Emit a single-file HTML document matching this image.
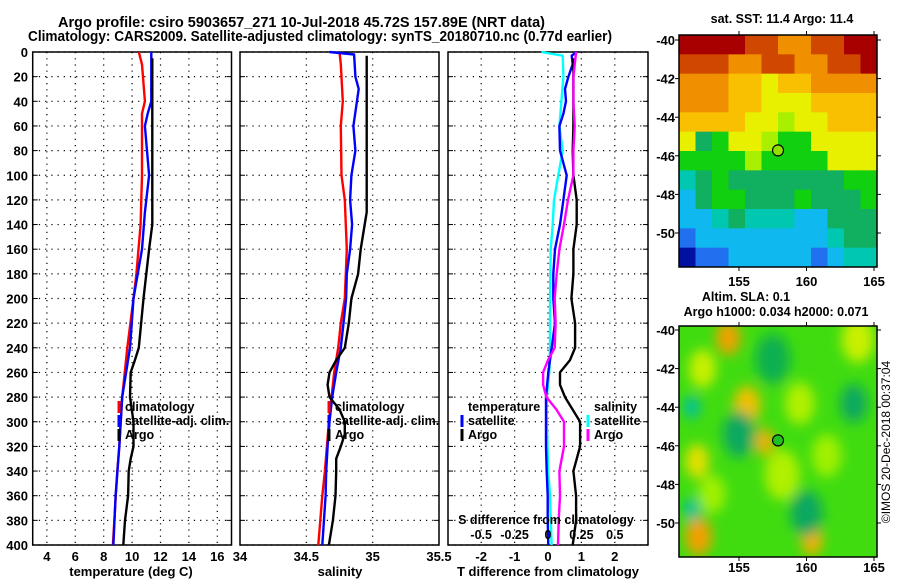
<!DOCTYPE html>
<html><head><meta charset="utf-8"><style>
html,body{margin:0;padding:0;background:#fff}
svg{display:block;font-family:"Liberation Sans",Arial,sans-serif;font-weight:bold}
text{fill:#000}
</style></head><body>
<svg id="fig" width="900" height="580" viewBox="0 0 900 580" xmlns="http://www.w3.org/2000/svg">
<defs>
<filter id="blur" x="-20%" y="-20%" width="140%" height="140%"><feGaussianBlur stdDeviation="6"/></filter>
<clipPath id="clipB"><rect x="679" y="326" width="198" height="231"/></clipPath>
</defs>
<text x="58" y="27" font-size="14.5" textLength="487" lengthAdjust="spacingAndGlyphs">Argo profile: csiro 5903657_271 10-Jul-2018 45.72S 157.89E (NRT data)</text>
<text x="28" y="41" font-size="14.5" textLength="584" lengthAdjust="spacingAndGlyphs">Climatology: CARS2009. Satellite-adjusted climatology: synTS_20180710.nc (0.77d earlier)</text>
<g id="g-temp"></g>
<g id="g-sal"></g>
<g id="g-diff"></g>
<g id="g-map1"></g>
<g id="g-map2"></g>
<text x="782" y="23" font-size="12.5" text-anchor="middle">sat. SST: 11.4 Argo: 11.4</text>
<text x="746" y="301" font-size="12.5" text-anchor="middle">Altim. SLA: 0.1</text>
<text x="776" y="316" font-size="12.5" text-anchor="middle">Argo h1000: 0.034 h2000: 0.071</text>
<text transform="translate(890,442) rotate(-90)" font-size="12" font-weight="normal" text-anchor="middle">©IMOS 20-Dec-2018 00:37:04</text>
</svg>
<script>
// ---------- data ----------
const depthTicks = [0,20,40,60,80,100,120,140,160,180,200,220,240,260,280,300,320,340,360,380,400];
const tempTicks = [4,6,8,10,12,14,16];
const salTicks = [34,34.5,35,35.5];
const tdiffTicks = [-2,-1,0,1,2];
const sdiffTicks = [-0.5,-0.25,0,0.25,0.5];
const sdiffTickLabels = ["-0.5","-0.25","0","0.25","0.5"];

const climTdepth = [0,10,40,50,100,140,180,200,240,280,300,320,340,360,400];
const climT = [10.47,10.7,10.9,10.7,10.7,10.6,10.3,10.1,9.66,9.3,9.2,9.1,8.96,8.85,8.65];
const satTdepth = [0,40,50,60,100,130,160,200,240,280,320,360,400];
const satT = [11.35,11.35,11.1,10.9,11.2,10.9,10.7,10.1,9.85,9.3,9.1,8.84,8.68];
const argoTdepth = [5,40,140,160,200,240,250,260,280,300,320,330,340,360,380,400];
const argoT = [11.42,11.42,11.42,11.2,10.8,10.47,10.2,9.9,9.85,10.1,10.1,9.9,9.76,9.72,9.5,9.38];

const climSdepth = [0,10,40,60,100,120,160,200,220,240,260,300,340,360,400];
const climS = [34.75,34.76,34.775,34.76,34.765,34.79,34.805,34.79,34.76,34.74,34.71,34.67,34.64,34.62,34.59];
const satSdepth = [0,2,20,30,60,80,100,120,140,160,180,200,220,240,260,280,300,320,340,360,400];
const satS = [34.675,34.86,34.87,34.895,34.855,34.87,34.84,34.83,34.845,34.83,34.805,34.8,34.78,34.76,34.725,34.695,34.675,34.66,34.65,34.645,34.62];
const argoSdepth = [3,130,140,160,180,200,220,240,250,260,270,280,290,300,310,320,330,340,360,380,400];
const argoS = [34.955,34.955,34.94,34.91,34.89,34.84,34.82,34.79,34.725,34.675,34.66,34.675,34.75,34.79,34.79,34.76,34.725,34.725,34.72,34.7,34.67];

const dTargoDepth = [5,20,40,60,80,100,120,140,160,180,200,220,240,250,260,270,280,300,320,340,360,380,400];
const dTargo = [0.76,0.76,0.76,0.76,0.74,0.76,0.86,0.86,0.76,0.76,0.70,0.81,0.81,0.66,0.36,0.36,0.51,0.96,0.96,0.76,0.84,0.84,0.74];
const dTsatDepth = [0,3,10,20,30,40,50,60,80,100,120,140,160,180,200,220,240,260,280,300,320,340,360,380,400];
const dTsat = [0.86,0.71,0.74,0.61,0.51,0.54,0.46,0.34,0.36,0.56,0.46,0.36,0.21,0.16,0.16,0.21,0.11,0.01,-0.06,-0.06,-0.06,-0.04,-0.01,-0.01,0.01];
const dSsatDepth = [0,3,20,40,60,80,100,120,140,160,200,240,260,280,300,340,360,400];
const dSsat = [-0.05,0.11,0.115,0.10,0.085,0.11,0.077,0.045,0.035,0.02,0.015,0.015,0.01,-0.01,-0.01,0.002,0.015,0.027];
const dSargoDepth = [0,20,40,60,80,100,120,140,160,180,200,220,240,250,260,270,280,290,300,320,340,360,380,400];
const dSargo = [0.21,0.19,0.19,0.20,0.19,0.19,0.15,0.12,0.085,0.065,0.05,0.057,0.05,0.0,-0.037,-0.037,-0.012,0.062,0.12,0.12,0.085,0.09,0.08,0.075];

// SST map colour-index grid (rows: -40 to -52 by 1 deg, cols: 150.5 to 165 lon)
const sstGrid = [
 [0,0,0,0,1,1,2,2,1,1,0,0],
 [1,1,1,2,2,1,1,2,2,1,1,0],
 [2,2,2,3,3,4,3,3,2,2,2,2],
 [2,2,2,3,3,4,4,4,3,3,3,3],
 [3,3,3,3,4,4,5,4,4,3,3,3],
 [4,7,6,4,4,5,6,6,4,4,4,4],
 [6,6,6,6,5,6,6,6,6,4,4,4],
 [8,7,6,7,7,7,7,7,7,7,6,6],
 [9,7,6,6,7,7,7,6,7,7,7,6],
 [9,9,8,7,8,8,8,9,9,7,7,7],
 [10,9,9,9,9,9,9,9,9,8,7,7],
 [11,10,10,9,9,9,9,9,10,9,8,8]
];
const sstPalette = ["#a80000","#d04800","#f09000","#f8c000","#e8f000","#a8f000","#10d010","#10b060","#00c8b0","#10b8f0","#2070f0","#0010a0"];
// SLA blobs: lon, lat, radius(deg), colour
const slaLon = [154.2,155.6,156.9,152.0,160.4,151.9,152.3,163.8,158.2,159.5,151.5,151.5,155.0,163.5,160.0,157.5,161.5,153.0];
const slaLat = [-40.4,-43.9,-45.8,-50.7,-50.9,-46.8,-42.0,-40.5,-47.5,-43.8,-44.0,-49.3,-45.4,-43.8,-49.5,-41.5,-46.5,-48.5];
const slaR = [0.9,1.0,0.7,1.0,0.8,0.9,1.0,1.2,1.3,1.1,0.6,0.6,1.2,1.0,1.2,1.3,1.1,1.0];
const slaCol = ["#f0a000","#f0c000","#f0b000","#f0a000","#f0b000","#e0e000","#c8f000","#c8f000","#b0f000","#b0f000","#00c0a0","#00c0a0","#10a860","#10a860","#10a860","#10b050","#a0f000","#a0f000"];

// ---------- helpers ----------
const NS="http://www.w3.org/2000/svg";
function mk(parent,tag,attrs){const e=document.createElementNS(NS,tag);for(const k in attrs)e.setAttribute(k,attrs[k]);parent.appendChild(e);return e;}
const Y0=52, Y1=545;
function yD(d){return Y0+(d/400)*(Y1-Y0);}
function xTemp(t){return 32.7+(t-3)*(231.5-32.7)/14;}
function xSal(s){return 240+(s-34)*(439-240)/1.5;}
function xDT(t){return 548+t*33.4;}
function xDS(s){return 548+s*133.6;}

function linePath(xs,ds,xf){return xs.map((v,i)=>(i?"L":"M")+xf(v).toFixed(1)+","+yD(ds[i]).toFixed(1)).join("");}

function panel(g,x0,x1,vgridXs,tickLabels,labelXs,xlabel,xlabelX,ylabels){
  for(const d of depthTicks){
    const y=yD(d);
    const l=mk(g,"line",{x1:x0,x2:x1,y1:y,y2:y,stroke:"#000","stroke-width":1.2,"stroke-dasharray":"1.2,5"});
    
    
    mk(g,"line",{x1:x0,x2:x0+5,y1:y,y2:y,stroke:"#000","stroke-width":1});
    mk(g,"line",{x1:x1-5,x2:x1,y1:y,y2:y,stroke:"#000","stroke-width":1});
    if(ylabels){const t=mk(g,"text",{x:28,y:y+5,"font-size":13,"text-anchor":"end"});t.textContent=d;
      
      }
  }
  for(const vx of vgridXs){
    const l=mk(g,"line",{x1:vx,x2:vx,y1:Y0,y2:Y1,stroke:"#000","stroke-width":1.2,"stroke-dasharray":"1.2,5"});
    
    
  }
  for(let i=0;i<tickLabels.length;i++){
    const t=mk(g,"text",{x:labelXs[i],y:561,"font-size":13,"text-anchor":"middle"});t.textContent=tickLabels[i];
    
    
  }
  const r=mk(g,"rect",{x:x0,y:Y0,width:x1-x0,height:Y1-Y0,fill:"none",stroke:"#000","stroke-width":1.5});
  
  
  const xl=mk(g,"text",{x:xlabelX,y:576,"font-size":13,"text-anchor":"middle"});xl.textContent=xlabel;
  
  
}
function series(g,xs,ds,xf,color,name){
  const p=mk(g,"path",{d:linePath(xs,ds,xf),fill:"none",stroke:color,"stroke-width":2.4,"stroke-linejoin":"round"});
  
  
}
function legend(g,x,y,color,label){
  const m=mk(g,"line",{x1:x-6,x2:x-6,y1:y-10,y2:y+2,stroke:color,"stroke-width":3});
  
  
  const t=mk(g,"text",{x:x,y:y,"font-size":12.5});t.textContent=label;
  
  
}

// ---------- temperature panel ----------
const gT=document.getElementById("g-temp");
panel(gT,32.7,231.5,tempTicks.map(xTemp),tempTicks.map(String),tempTicks.map(xTemp),"temperature (deg C)",131,true);
series(gT,climT,climTdepth,xTemp,"#f00","climatology-temp-line");
series(gT,satT,satTdepth,xTemp,"#00f","satellite-temp-line");
series(gT,argoT,argoTdepth,xTemp,"#000","argo-temp-line");
legend(gT,125,411,"#f00","climatology");
legend(gT,125,425,"#00f","satellite-adj. clim.");
legend(gT,125,439,"#000","Argo");

// ---------- salinity panel ----------
const gS=document.getElementById("g-sal");
panel(gS,240,439,[xSal(34.5),xSal(35)],["34","34.5","35","35.5"],salTicks.map(xSal),"salinity",340,false);
series(gS,climS,climSdepth,xSal,"#f00","climatology-salinity-line");
series(gS,satS,satSdepth,xSal,"#00f","satellite-salinity-line");
series(gS,argoS,argoSdepth,xSal,"#000","argo-salinity-line");
legend(gS,335,411,"#f00","climatology");
legend(gS,335,425,"#00f","satellite-adj. clim.");
legend(gS,335,439,"#000","Argo");

// ---------- difference panel ----------
const gD=document.getElementById("g-diff");
panel(gD,448,648,tdiffTicks.map(xDT),tdiffTicks.map(String),tdiffTicks.map(xDT),"T difference from climatology",548,false);
series(gD,dSsat,dSsatDepth,xDS,"#0ff","satellite-salinity-diff-line");
series(gD,dTsat,dTsatDepth,xDT,"#00f","satellite-temp-diff-line");
series(gD,dTargo,dTargoDepth,xDT,"#000","argo-temp-diff-line");
series(gD,dSargo,dSargoDepth,xDS,"#f0f","argo-salinity-diff-line");
{const t=mk(gD,"text",{x:468,y:411,"font-size":12.5});t.textContent="temperature";
 
 
 const t2=mk(gD,"text",{x:594,y:411,"font-size":12.5});t2.textContent="salinity";
 
 }
legend(gD,468,425,"#00f","satellite");
legend(gD,468,439,"#000","Argo");
legend(gD,594,425,"#0ff","satellite");
legend(gD,594,439,"#f0f","Argo");
{const t=mk(gD,"text",{x:546,y:524,"font-size":12.5,"text-anchor":"middle"});t.textContent="S difference from climatology";
 
 
 for(let i=0;i<sdiffTicks.length;i++){const l=mk(gD,"text",{x:xDS(sdiffTicks[i]),y:539,"font-size":12.5,"text-anchor":"middle"});l.textContent=sdiffTickLabels[i];
  
  }}

// ---------- maps ----------
const MX0=679,MX1=877;
function mLon(lon){return 739+(lon-155)*13.5;}
function latTop(lat){return 40+(-40-lat)*19.3;}
function latBot(lat){return 330+(-40-lat)*19.3;}
function mapAxes(g,yf,ytop,ybot,lonY){
  const lats=[-40,-42,-44,-46,-48,-50];
  for(const la of lats){const y=yf(la);
    mk(g,"line",{x1:MX0-4,x2:MX0,y1:y,y2:y,stroke:"#000"});mk(g,"line",{x1:MX1,x2:MX1+4,y1:y,y2:y,stroke:"#000"});
    const t=mk(g,"text",{x:675,y:y+5,"font-size":13,"text-anchor":"end"});t.textContent=la;
    
    }
  for(const lo of [155,160,165]){const x=mLon(lo);
    mk(g,"line",{x1:x,x2:x,y1:ytop-4,y2:ytop,stroke:"#000"});mk(g,"line",{x1:x,x2:x,y1:ybot,y2:ybot+4,stroke:"#000"});
    const t=mk(g,"text",{x:x,y:lonY,"font-size":13,"text-anchor":"middle"});t.textContent=lo;
    
    }
  const r=mk(g,"rect",{x:MX0,y:ytop,width:MX1-MX0,height:ybot-ytop,fill:"none",stroke:"#000","stroke-width":1.5});
  
  
}
const g1=document.getElementById("g-map1");
{const cw=(MX1-MX0)/sstGrid[0].length, ch=(267-35)/sstGrid.length;
 for(let r=0;r<sstGrid.length;r++)for(let c=0;c<sstGrid[r].length;c++){
  const cell=mk(g1,"rect",{x:MX0+c*cw,y:35+r*ch,width:cw+0.5,height:ch+0.5,fill:sstPalette[sstGrid[r][c]]});
  
  }}
mapAxes(g1,latTop,35,267,286);
{const c=mk(g1,"circle",{cx:mLon(157.89),cy:latTop(-45.72),r:5.5,fill:"#90e000",stroke:"#000","stroke-width":1.2});
 
 }

const g2=document.getElementById("g-map2");
{const bg=mk(g2,"rect",{x:MX0,y:326,width:MX1-MX0,height:231,fill:"#40dc10"});
 
 
 const bl=mk(g2,"g",{filter:"url(#blur)","clip-path":"url(#clipB)"});
 for(let i=0;i<slaLon.length;i++){
  const e=mk(bl,"ellipse",{cx:mLon(slaLon[i]),cy:latBot(slaLat[i]),rx:slaR[i]*13.5,ry:slaR[i]*19.3,fill:slaCol[i]});
  
  }}
mapAxes(g2,latBot,326,557,572);
{const c=mk(g2,"circle",{cx:mLon(157.89),cy:latBot(-45.72),r:5.5,fill:"#20c020",stroke:"#000","stroke-width":1.2});
 
 }
</script>
</body></html>
